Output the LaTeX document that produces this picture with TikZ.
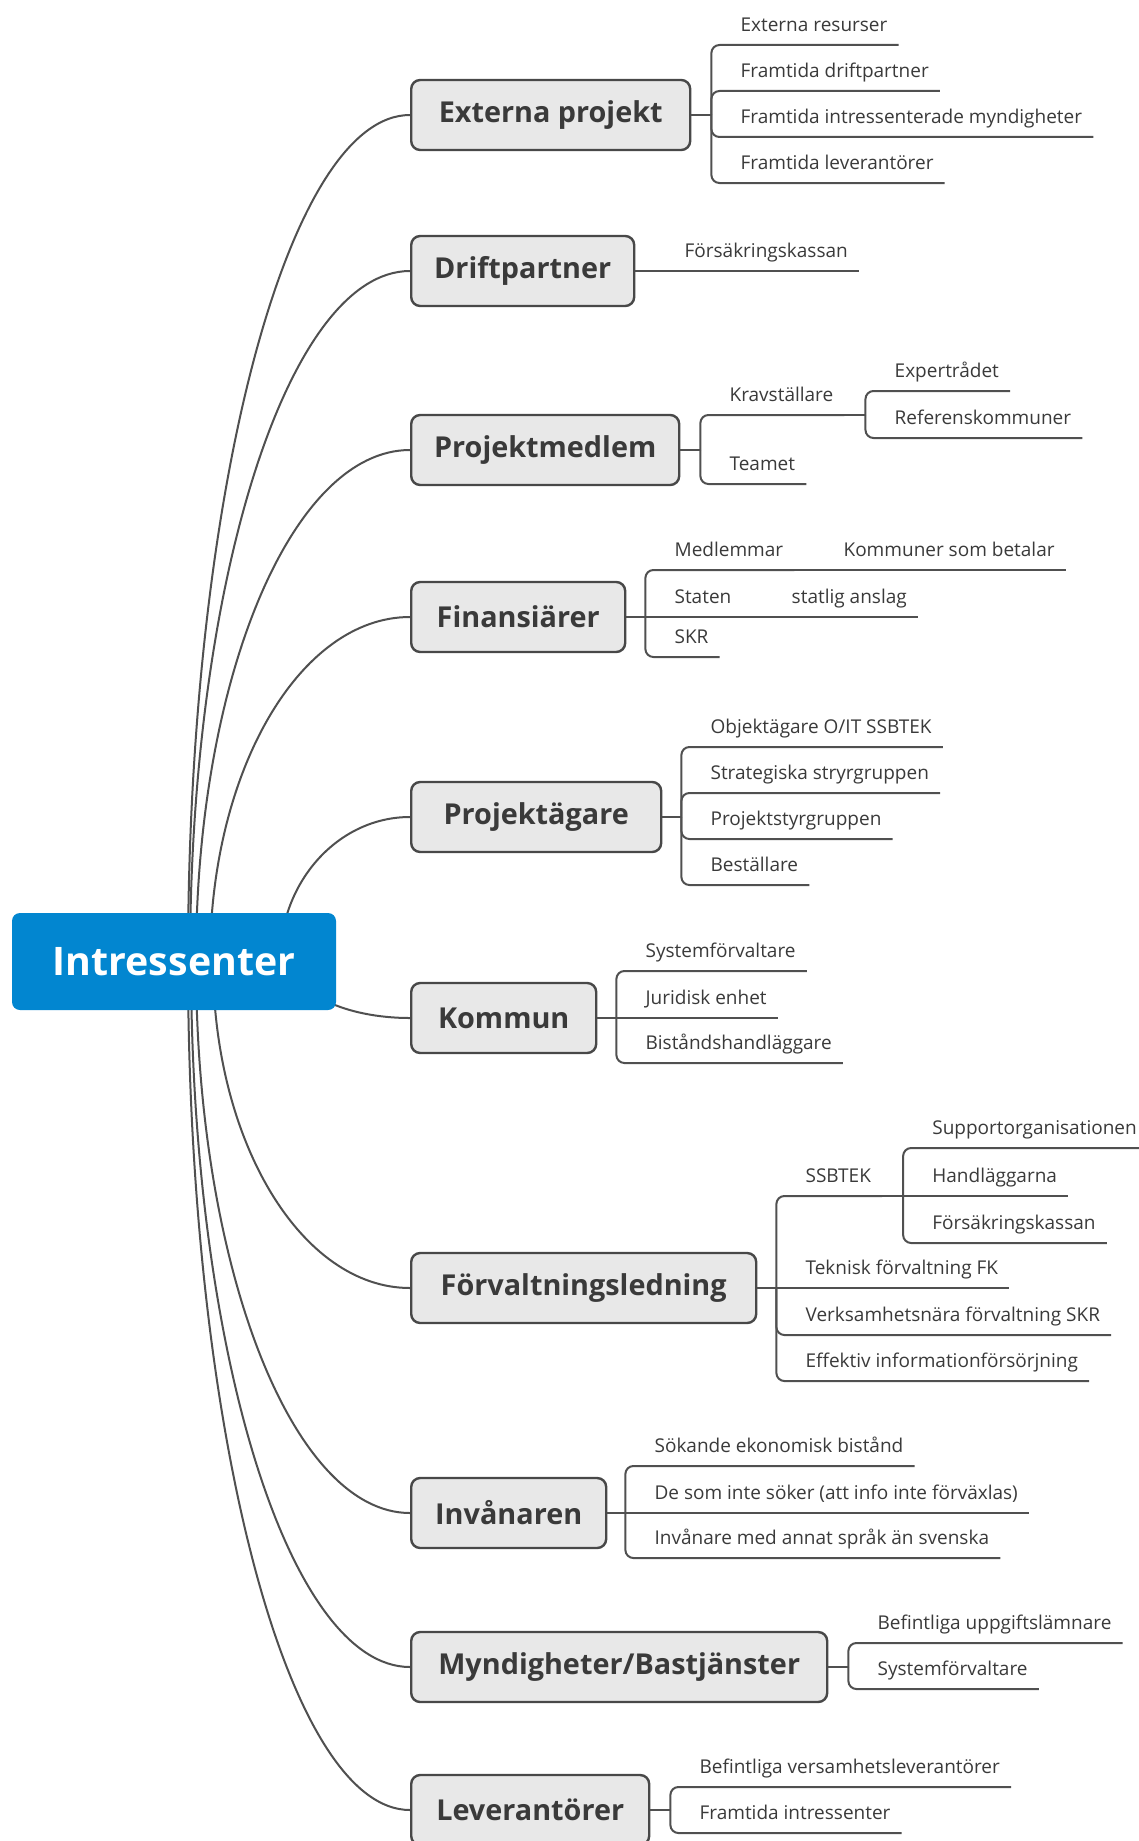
\documentclass[tikz,border=0pt]{standalone}
\usepackage{fontspec}
\setmainfont{Open Sans}
\usetikzlibrary{calc,backgrounds}
\definecolor{rootblue}{RGB}{2,134,208}
\definecolor{boxfill}{RGB}{232,232,232}
\definecolor{boxdraw}{RGB}{72,72,72}
\definecolor{linec}{RGB}{80,80,80}
\definecolor{txt}{RGB}{58,58,58}
\tikzset{
  rootnode/.style={fill=rootblue, rounded corners=8pt, minimum width=324pt, minimum height=97pt,
    text=white, font=\fontsize{39.3}{44}\selectfont\bfseries, inner sep=0pt},
  mainbox/.style={fill=boxfill, draw=boxdraw, line width=2.4pt, rounded corners=9pt,
    minimum height=70pt, minimum width=#1, anchor=west, text=txt,
    font=\fontsize{28.8}{33}\selectfont\bfseries, inner sep=0pt},
  leaf/.style={anchor=south west, inner xsep=11pt, inner ysep=0pt, text height=14pt,
    text depth=13pt, text=txt, font=\fontsize{19}{22}\selectfont},
  mainconn/.style={draw=linec, line width=2pt},
  leafline/.style={draw=linec, line width=2pt, rounded corners=8pt},
}
\newcommand{\leafat}[4]{%
  \node[leaf] (#1) at ($(#2 |- 0,#3)+(18,0)$) {#4};
  \draw[leafline] (#2) |- (#1.south west) -- (#1.south east);}
\newcommand{\leafstraight}[3]{%
  \node[leaf] (#1) at ($(#2)+(18,0)$) {#3};
  \draw[leafline] (#2) -- (#1.south east);}
\newcommand{\mainlink}[2]{%
  \draw[mainconn] (#1) .. controls ($(#1)!0.552!(#1|-#2)$) and ($(#2)!0.552!(#2-|#1)$) .. (#2);}
\newcommand{\junction}[3]{%
  \coordinate (#1) at ($(#2)+(#3,0)$);
  \draw[leafline] (#2) -- (#1);}
\begin{document}
\begin{tikzpicture}[x=1pt,y=-1pt]
\useasboundingbox (0,0) rectangle (1138,1841);

% root
\node[rootnode] (root) at (174,961.5) {Intressenter};

% main topics
\node[mainbox=279pt] (b1) at (410,115) {Externa projekt};
\node[mainbox=223pt] (b2) at (410,271) {Driftpartner};
\node[mainbox=268pt] (b3) at (410,450) {Projektmedlem};
\node[mainbox=214pt] (b4) at (410,617) {Finansiärer};
\node[mainbox=250pt] (b5) at (410,817) {Projektägare};
\node[mainbox=185pt] (b6) at (410,1018) {Kommun};
\node[mainbox=345pt] (b7) at (410,1288) {Förvaltningsledning};
\node[mainbox=195pt] (b8) at (410,1513) {Invånaren};
\node[mainbox=416pt] (b9) at (410,1667) {Myndigheter/Bastjänster};
\node[mainbox=238pt] (b10) at (410,1810) {Leverantörer};

% start points of the main links (hidden behind the root)
\coordinate (s1) at (188,961);
\coordinate (s2) at (190,961);
\coordinate (s3) at (196,961);
\coordinate (s4) at (210,961);
\coordinate (s5) at (280,961);
\coordinate (s6) at (292,961);
\coordinate (s7) at (213,961);
\coordinate (s8) at (196,961);
\coordinate (s9) at (191,961);
\coordinate (s10) at (188,961);

% Externa projekt
\junction{j1}{b1.east}{20}
\leafat{e1}{j1}{45}{Externa resurser}
\leafat{e2}{j1}{91}{Framtida driftpartner}
\leafat{e3}{j1}{137}{Framtida intressenterade myndigheter}
\leafat{e4}{j1}{183}{Framtida leverantörer}

% Driftpartner
\junction{j2}{b2.east}{20}
\leafstraight{d1}{j2}{Försäkringskassan}

% Projektmedlem
\junction{j3}{b3.east}{20}
\leafat{p1}{j3}{415}{Kravställare}
\leafat{p2}{j3}{484}{Teamet}
\junction{jp1}{p1.south east}{21}
\leafat{p1a}{jp1}{391}{Expertrådet}
\leafat{p1b}{jp1}{438}{Referenskommuner}

% Finansiärer
\junction{j4}{b4.east}{19}
\leafat{f1}{j4}{570}{Medlemmar}
\leafstraight{f2}{j4}{Staten}
\leafat{f3}{j4}{657}{SKR}
\junction{jf1}{f1.south east}{20}
\leafstraight{f1a}{jf1}{Kommuner som betalar}
\junction{jf2}{f2.south east}{20}
\leafstraight{f2a}{jf2}{statlig anslag}

% Projektägare
\junction{j5}{b5.east}{19}
\leafat{a1}{j5}{747}{Objektägare O/IT SSBTEK}
\leafat{a2}{j5}{793}{Strategiska stryrgruppen}
\leafat{a3}{j5}{839}{Projektstyrgruppen}
\leafat{a4}{j5}{885}{Beställare}

% Kommun
\junction{j6}{b6.east}{19}
\leafat{k1}{j6}{971}{Systemförvaltare}
\leafstraight{k2}{j6}{Juridisk enhet}
\leafat{k3}{j6}{1063}{Biståndshandläggare}

% Förvaltningsledning
\junction{j7}{b7.east}{19}
\leafat{v1}{j7}{1196}{SSBTEK}
\leafstraight{v2}{j7}{Teknisk förvaltning FK}
\leafat{v3}{j7}{1335}{Verksamhetsnära förvaltning SKR}
\leafat{v4}{j7}{1381}{Effektiv informationförsörjning}
\junction{jv1}{v1.south east}{21}
\leafat{v1a}{jv1}{1148}{Supportorganisationen}
\leafstraight{v1b}{jv1}{Handläggarna}
\leafat{v1c}{jv1}{1243}{Försäkringskassan}

% Invånaren
\junction{j8}{b8.east}{18}
\leafat{i1}{j8}{1466}{Sökande ekonomisk bistånd}
\leafstraight{i2}{j8}{De som inte söker (att info inte förväxlas)}
\leafat{i3}{j8}{1558}{Invånare med annat språk än svenska}

% Myndigheter/Bastjänster
\junction{j9}{b9.east}{20}
\leafat{m1}{j9}{1643}{Befintliga uppgiftslämnare}
\leafat{m2}{j9}{1689}{Systemförvaltare}

% Leverantörer
\junction{j10}{b10.east}{20}
\leafat{l1}{j10}{1787}{Befintliga versamhetsleverantörer}
\leafat{l2}{j10}{1833}{Framtida intressenter}

% main links, behind the root
\begin{scope}[on background layer]
\fill[white] (0,0) rectangle (1138,1841);
\mainlink{s1}{b1.west}
\mainlink{s2}{b2.west}
\mainlink{s3}{b3.west}
\mainlink{s4}{b4.west}
\mainlink{s5}{b5.west}
\mainlink{s6}{b6.west}
\mainlink{s7}{b7.west}
\mainlink{s8}{b8.west}
\mainlink{s9}{b9.west}
\mainlink{s10}{b10.west}
\end{scope}
\end{tikzpicture}
\end{document}
